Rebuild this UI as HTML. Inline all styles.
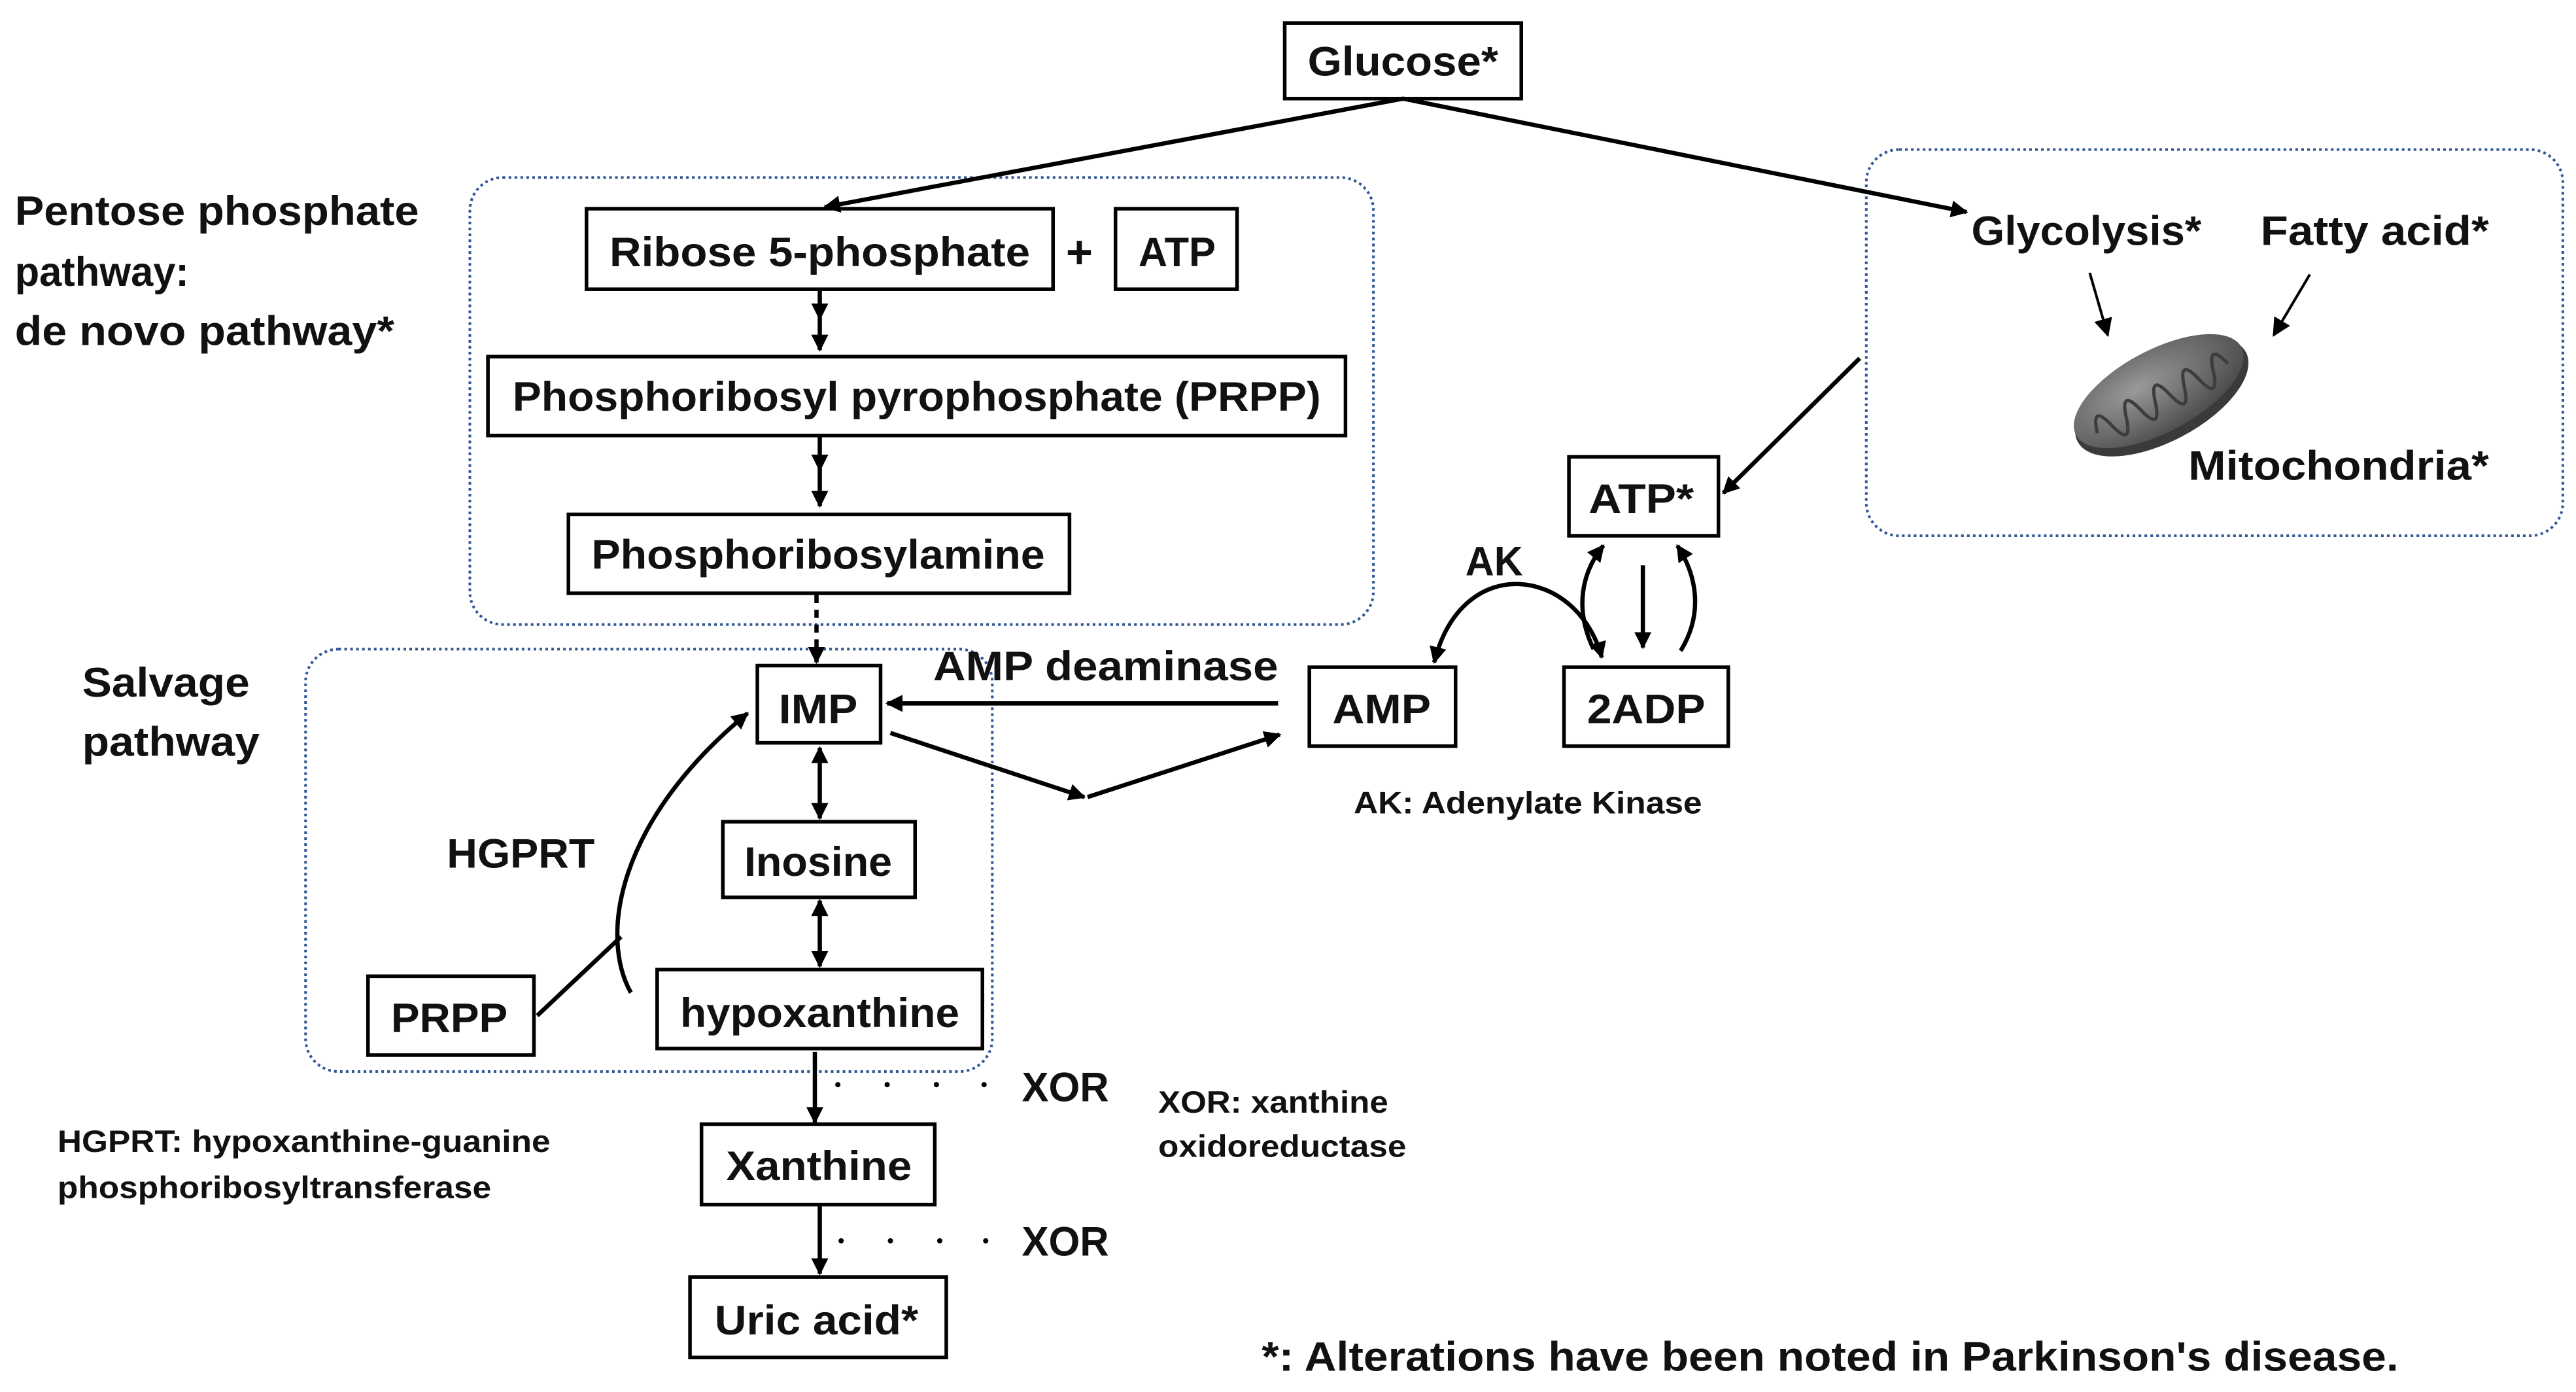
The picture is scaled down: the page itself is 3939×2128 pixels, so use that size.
<!DOCTYPE html>
<html><head><meta charset="utf-8"><style>
html,body{margin:0;padding:0;background:#fff;}
svg{display:block;}
text{font-family:"Liberation Sans",sans-serif;fill:#111;font-weight:bold;}
.b{font-size:25px;}
.s{font-size:19px;}
</style></head><body>
<svg width="3939" height="2128" viewBox="0 0 1568 847" preserveAspectRatio="none" xmlns="http://www.w3.org/2000/svg">
<defs>
<marker id="ah" viewBox="0 0 10 10" refX="9" refY="5" markerWidth="4" markerHeight="4" orient="auto-start-reverse" markerUnits="strokeWidth"><path d="M0,0 L10,5 L0,10 z" fill="#000"/></marker>
<marker id="ahs" viewBox="0 0 10 10" refX="9" refY="5" markerWidth="7" markerHeight="7" orient="auto-start-reverse" markerUnits="strokeWidth"><path d="M0,0 L10,5 L0,10 z" fill="#000"/></marker>
<radialGradient id="mg" cx="0.4" cy="0.35" r="0.7"><stop offset="0" stop-color="#9a9a9a"/><stop offset="1" stop-color="#4a4a4a"/></radialGradient>
</defs>
<g fill="none" stroke="#2f5597" stroke-width="1.6" stroke-dasharray="1.6 2">
<rect x="286" y="108" width="550" height="272" rx="20"/>
<rect x="186" y="395" width="418" height="257" rx="20"/>
<rect x="1136" y="91" width="424" height="235" rx="20"/>
</g>
<g fill="#fff" stroke="#000" stroke-width="2.2">
<rect x="782" y="14" width="144" height="46"/>
<rect x="357" y="127" width="284" height="49"/>
<rect x="679" y="127" width="74" height="49"/>
<rect x="297" y="217" width="522" height="48"/>
<rect x="346" y="313" width="305" height="48"/>
<rect x="461" y="405" width="75" height="47"/>
<rect x="797" y="406" width="89" height="48"/>
<rect x="952" y="406" width="100" height="48"/>
<rect x="955" y="278" width="91" height="48"/>
<rect x="440" y="500" width="117" height="46"/>
<rect x="400" y="590" width="198" height="48"/>
<rect x="224" y="594" width="101" height="48"/>
<rect x="427" y="684" width="142" height="49"/>
<rect x="420" y="777" width="156" height="49"/>
</g>
<g fill="none" stroke="#000" stroke-width="2.6">
<line x1="854" y1="60" x2="502" y2="126" marker-end="url(#ah)"/>
<line x1="854" y1="60" x2="1197" y2="129" marker-end="url(#ah)"/>
<line x1="499" y1="177" x2="499" y2="194" marker-end="url(#ah)"/>
<line x1="499" y1="194" x2="499" y2="213" marker-end="url(#ah)"/>
<line x1="499" y1="266" x2="499" y2="286" marker-end="url(#ah)"/>
<line x1="499" y1="286" x2="499" y2="308" marker-end="url(#ah)"/>
<line x1="497" y1="362" x2="497" y2="403" stroke-dasharray="5 4" marker-end="url(#ah)"/>
<line x1="778" y1="428" x2="540" y2="428" marker-end="url(#ah)"/>
<line x1="542" y1="446" x2="660" y2="485" marker-end="url(#ah)"/>
<line x1="662" y1="485" x2="779" y2="447" marker-end="url(#ah)"/>
<line x1="499" y1="455" x2="499" y2="498" marker-start="url(#ah)" marker-end="url(#ah)"/>
<line x1="499" y1="548" x2="499" y2="588" marker-start="url(#ah)" marker-end="url(#ah)"/>
<path d="M384,604 C365,570 375,500 455,434" marker-end="url(#ah)"/>
<line x1="327" y1="618" x2="378" y2="570"/>
<line x1="496" y1="640" x2="496" y2="683" marker-end="url(#ah)"/>
<line x1="499" y1="734" x2="499" y2="775" marker-end="url(#ah)"/>
<line x1="1132" y1="218" x2="1049" y2="300" marker-end="url(#ah)"/>
<path d="M975,400 C960,345 890,335 873,403" marker-start="url(#ah)" marker-end="url(#ah)"/>
<path d="M970,395 C958,370 963,348 976,332" marker-end="url(#ah)"/>
<line x1="1000" y1="344" x2="1000" y2="394" marker-end="url(#ah)"/>
<path d="M1023,396 C1036,375 1034,352 1021,332" marker-end="url(#ah)"/>
</g>
<g fill="none" stroke="#000" stroke-width="1.6">
<line x1="1272" y1="166" x2="1283" y2="204" marker-end="url(#ahs)"/>
<line x1="1406" y1="167" x2="1384" y2="204" marker-end="url(#ahs)"/>
</g>
<g fill="#000">
<circle cx="510" cy="660" r="1.6"/><circle cx="540" cy="660" r="1.6"/><circle cx="570" cy="660" r="1.6"/><circle cx="599" cy="660" r="1.6"/>
<circle cx="512" cy="755" r="1.6"/><circle cx="542" cy="755" r="1.6"/><circle cx="572" cy="755" r="1.6"/><circle cx="600" cy="755" r="1.6"/>
</g>
<g transform="translate(1314,238) rotate(-28)">
<ellipse cx="0" cy="4" rx="58" ry="27" fill="#3a3a3a"/>
<ellipse cx="0" cy="0" rx="57" ry="25" fill="url(#mg)"/>
<path d="M-45,5 q5,-18 10,0 q5,18 10,0 q5,-18 10,0 q5,18 10,0 q5,-18 10,0 q5,18 10,0 q5,-18 10,0 q5,18 10,0 q5,-18 10,0" fill="none" stroke="#3d3d3d" stroke-width="2"/>
</g>
<g class="b">
<text x="796" y="46" textLength="116" lengthAdjust="spacingAndGlyphs">Glucose*</text>
<text x="371" y="162" textLength="256" lengthAdjust="spacingAndGlyphs">Ribose 5-phosphate</text>
<text x="657" y="163" text-anchor="middle" font-size="28" font-weight="normal">+</text>
<text x="693" y="162" textLength="47" lengthAdjust="spacingAndGlyphs">ATP</text>
<text x="312" y="250" textLength="492" lengthAdjust="spacingAndGlyphs">Phosphoribosyl pyrophosphate (PRPP)</text>
<text x="360" y="346" textLength="276" lengthAdjust="spacingAndGlyphs">Phosphoribosylamine</text>
<text x="474" y="440" textLength="48" lengthAdjust="spacingAndGlyphs">IMP</text>
<text x="568" y="414" textLength="210" lengthAdjust="spacingAndGlyphs">AMP deaminase</text>
<text x="811" y="440" textLength="60" lengthAdjust="spacingAndGlyphs">AMP</text>
<text x="966" y="440" textLength="72" lengthAdjust="spacingAndGlyphs">2ADP</text>
<text x="967" y="312" textLength="64" lengthAdjust="spacingAndGlyphs">ATP*</text>
<text x="892" y="350" textLength="35" lengthAdjust="spacingAndGlyphs">AK</text>
<text x="453" y="533" textLength="90" lengthAdjust="spacingAndGlyphs">Inosine</text>
<text x="414" y="625" textLength="170" lengthAdjust="spacingAndGlyphs">hypoxanthine</text>
<text x="238" y="628" textLength="71" lengthAdjust="spacingAndGlyphs">PRPP</text>
<text x="442" y="718" textLength="113" lengthAdjust="spacingAndGlyphs">Xanthine</text>
<text x="435" y="812" textLength="124" lengthAdjust="spacingAndGlyphs">Uric acid*</text>
<text x="272" y="528" textLength="90" lengthAdjust="spacingAndGlyphs">HGPRT</text>
<text x="622" y="670" textLength="53" lengthAdjust="spacingAndGlyphs">XOR</text>
<text x="622" y="764" textLength="53" lengthAdjust="spacingAndGlyphs">XOR</text>
<text x="9" y="137" textLength="246" lengthAdjust="spacingAndGlyphs">Pentose phosphate</text>
<text x="9" y="174" textLength="106" lengthAdjust="spacingAndGlyphs">pathway:</text>
<text x="9" y="210" textLength="231" lengthAdjust="spacingAndGlyphs">de novo pathway*</text>
<text x="50" y="424" textLength="102" lengthAdjust="spacingAndGlyphs">Salvage</text>
<text x="50" y="460" textLength="108" lengthAdjust="spacingAndGlyphs">pathway</text>
<text x="1200" y="149" textLength="140" lengthAdjust="spacingAndGlyphs">Glycolysis*</text>
<text x="1376" y="149" textLength="139" lengthAdjust="spacingAndGlyphs">Fatty acid*</text>
<text x="1332" y="292" textLength="183" lengthAdjust="spacingAndGlyphs">Mitochondria*</text>
<text x="768" y="834" textLength="692" lengthAdjust="spacingAndGlyphs">*: Alterations have been noted in Parkinson's disease.</text>
</g>
<g class="s">
<text x="824" y="495" textLength="212" lengthAdjust="spacingAndGlyphs">AK: Adenylate Kinase</text>
<text x="705" y="677" textLength="140" lengthAdjust="spacingAndGlyphs">XOR: xanthine</text>
<text x="705" y="704" textLength="151" lengthAdjust="spacingAndGlyphs">oxidoreductase</text>
<text x="35" y="701" textLength="300" lengthAdjust="spacingAndGlyphs">HGPRT: hypoxanthine-guanine</text>
<text x="35" y="729" textLength="264" lengthAdjust="spacingAndGlyphs">phosphoribosyltransferase</text>
</g>
</svg>
</body></html>
